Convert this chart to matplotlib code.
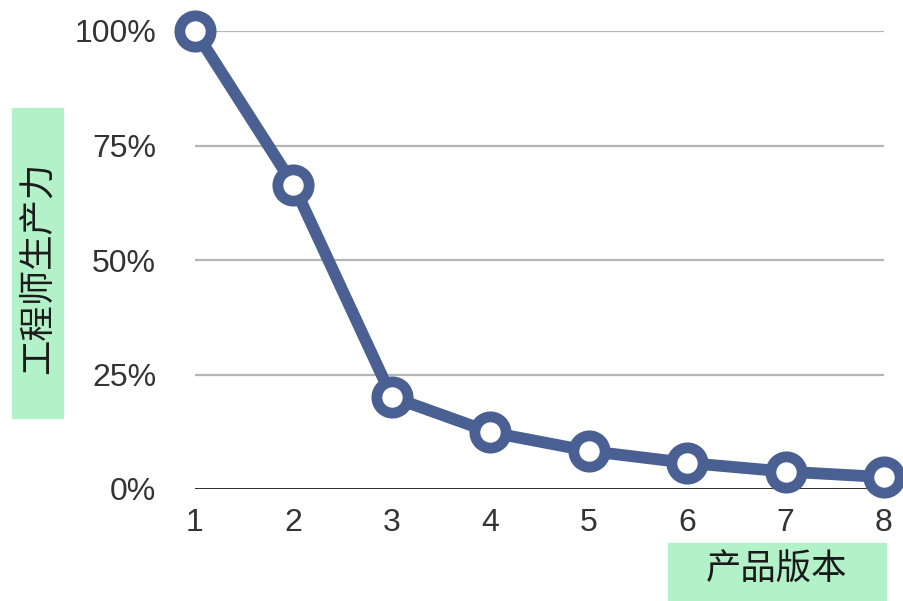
import matplotlib
matplotlib.use("Agg")
import matplotlib.pyplot as plt
from matplotlib.patches import Rectangle

plt.rcParams['font.family'] = ['Liberation Sans', 'Noto Sans CJK SC', 'DejaVu Sans']

versions = [1, 2, 3, 4, 5, 6, 7, 8]
productivity = [100, 66.4, 20.1, 12.4, 8.3, 5.7, 3.8, 2.6]
y_ticks = [0, 25, 50, 75, 100]
y_tick_labels = ['0%', '25%', '50%', '75%', '100%']
x_label = '产品版本'
y_label = '工程师生产力'

W, H = 904, 601
fig = plt.figure(figsize=(W / 100, H / 100), dpi=100)
ax = fig.add_axes([195 / W, 1 - 489 / H, (884 - 195) / W, (489 - 31) / H])

line_color = '#4a6093'
label_bg = '#b3f1c8'

for yt in y_ticks[1:]:
    ax.axhline(yt, color='#b5b5b5', lw=1.6, zorder=1)
ax.axhline(0, color='#1a1a1a', lw=2.0, zorder=1, xmin=-0.003)

ax.plot(versions, productivity, color=line_color, lw=8.5, marker='o',
        markersize=22.5, markerfacecolor='white', markeredgecolor=line_color,
        markeredgewidth=7.8, clip_on=False, zorder=3, solid_capstyle='round')

ax.set_xlim(1, 8)
ax.set_ylim(0, 100)
ax.set_xticks(versions)
ax.set_xticklabels([str(v) for v in versions])
ax.set_yticks(y_ticks)
ax.set_yticklabels(y_tick_labels)
ax.tick_params(axis='both', length=0, labelsize=23, labelcolor='#333333')
ax.tick_params(axis='y', pad=28)
ax.tick_params(axis='x', pad=14)
for s in ax.spines.values():
    s.set_visible(False)

# label boxes
fig.patches.append(Rectangle((12 / W, 1 - 418 / H), 51 / W, 310 / H,
                             transform=fig.transFigure, color=label_bg, zorder=0))
fig.text(38 / W, 1 - 268 / H, y_label, rotation=90, ha='center', va='center',
         fontsize=25.5, family=['Noto Sans CJK SC'], color='#1a1a1a')

fig.patches.append(Rectangle((668 / W, 0), 218 / W, 58 / H,
                             transform=fig.transFigure, color=label_bg, zorder=0))
fig.text(777 / W, 1 - 570 / H, x_label, ha='center', va='center',
         fontsize=25.5, family=['Noto Sans CJK SC'], color='#1a1a1a')

fig.savefig('out.png', dpi=100, facecolor='white')
